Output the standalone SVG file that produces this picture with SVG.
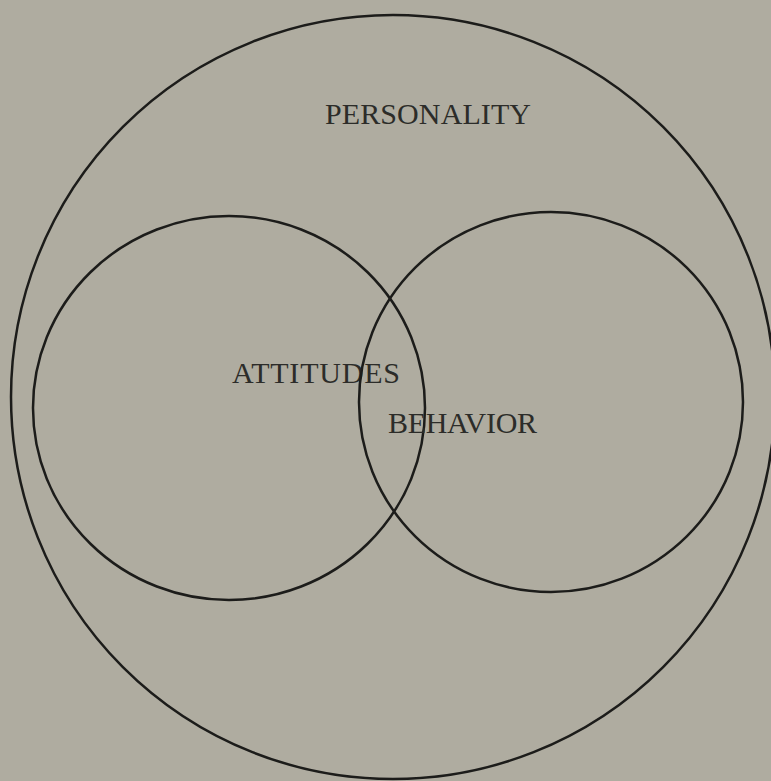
<svg xmlns="http://www.w3.org/2000/svg" width="771" height="781" viewBox="0 0 771 781">
<style>
.ring{fill:none;stroke:#1c1c1a;stroke-width:2.5}
.lbl{font-family:"Liberation Serif","DejaVu Serif",serif;font-size:30px;fill:#2c2c29}
</style>
<rect width="771" height="781" fill="#afaca0"/>
<g id="personality">
<ellipse class="ring" cx="393" cy="397" rx="382" ry="382"/>
<text class="lbl" x="325" y="124" textLength="206">PERSONALITY</text>
</g>
<g id="attitudes">
<ellipse class="ring" cx="229" cy="408" rx="196" ry="192"/>
<text class="lbl" x="232" y="383" textLength="168">ATTITUDES</text>
</g>
<g id="behavior">
<ellipse class="ring" cx="551" cy="402" rx="192" ry="190"/>
<text class="lbl" x="388" y="433" textLength="149">BEHAVIOR</text>
</g>
<g id="connectors"/>
</svg>
